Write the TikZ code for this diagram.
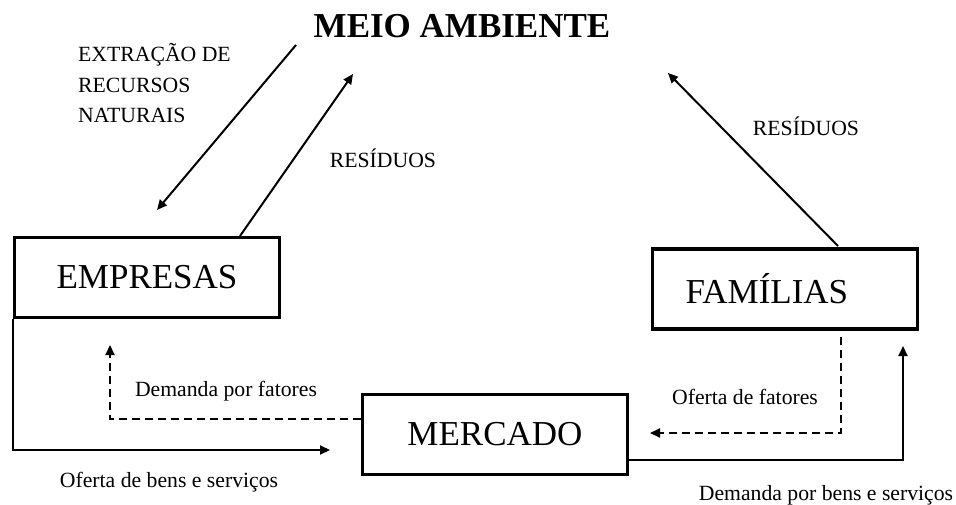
\documentclass[tikz,border=0pt]{standalone}
\usepackage{fontspec}
\setmainfont{Liberation Serif}
\usepackage{tikz}
\usetikzlibrary{
    arrows.meta,
    calc,
    positioning
}

\begin{document}
\begin{tikzpicture}[x=1pt, y=-1pt,
        caixa/.style={draw, line width=3.2pt, minimum width=265pt, minimum height=80pt, inner sep=0pt, font=\fontsize{35}{42}\selectfont},
        rotulo/.style={inner sep=0pt, font=\fontsize{21.7}{30.5}\selectfont},
        fluxo/.style={line width=2pt, -{Triangle[length=10pt, width=9pt]}},
        tracejado/.style={fluxo, dash pattern=on 8pt off 5pt}]
                        \useasboundingbox (0,0) rectangle (956,505);

                        \node[inner sep=0pt, anchor=base, font=\bfseries\fontsize{35}{42}\selectfont] (meio) at (462, 38) {MEIO AMBIENTE};
                        \node[caixa] (empresas) at (147, 277.5) {EMPRESAS};
                        \node[caixa, text width=199pt, inner xsep=33pt, align=left] (familias) at (785, 289) {FAMÍLIAS};
                        \node[caixa] (mercado) at (495, 434.5) {MERCADO};

                        \node[rotulo, anchor=base west, align=left] (extracao) at (78, 123) {EXTRAÇÃO DE\\RECURSOS\\NATURAIS};
                        \node[rotulo, anchor=base] (resid1) at (383, 168) {RESÍDUOS};
                        \node[rotulo, anchor=base] (resid2) at (806, 136) {RESÍDUOS};
                        \node[rotulo, anchor=base] (ofbens) at (169, 487) {Oferta de bens e serviços};
                        \node[rotulo, anchor=base] (demfat) at (226, 396) {Demanda por fatores};
                        \node[rotulo, anchor=base] (offat) at (745, 404) {Oferta de fatores};
                        \node[rotulo, anchor=base] (dembens) at (826, 500) {Demanda por bens e serviços};

                        % pontas livres
                        \coordinate (ext1) at (296, 45);
                        \coordinate (ext2) at (157, 210);
                        \coordinate (res1a) at (240, 236);
                        \coordinate (res1b) at (353, 74);
                        \coordinate (res2a) at (838, 246);
                        \coordinate (res2b) at (668, 73);
                        \coordinate (ob) at (330, 450);
                        \coordinate (dfa) at (361, 419);
                        \coordinate (dfb) at (110, 345);
                        \coordinate (ofa) at (841, 337);
                        \coordinate (ofb) at (650, 433);
                        \coordinate (dba) at (629, 460);
                        \coordinate (dbb) at (903, 346);

                        \draw[fluxo] (ext1) -- (ext2);
                        \draw[fluxo] (res1a) -- (res1b);
                        \draw[fluxo] (res2a) -- (res2b);
                        \draw[fluxo] (empresas.south west) |- (ob);
                        \draw[tracejado] (dfa) -| (dfb);
                        \draw[tracejado] (ofa) |- (ofb);
                        \draw[fluxo] (dba) -| (dbb);
                    \end{tikzpicture}
\end{document}
